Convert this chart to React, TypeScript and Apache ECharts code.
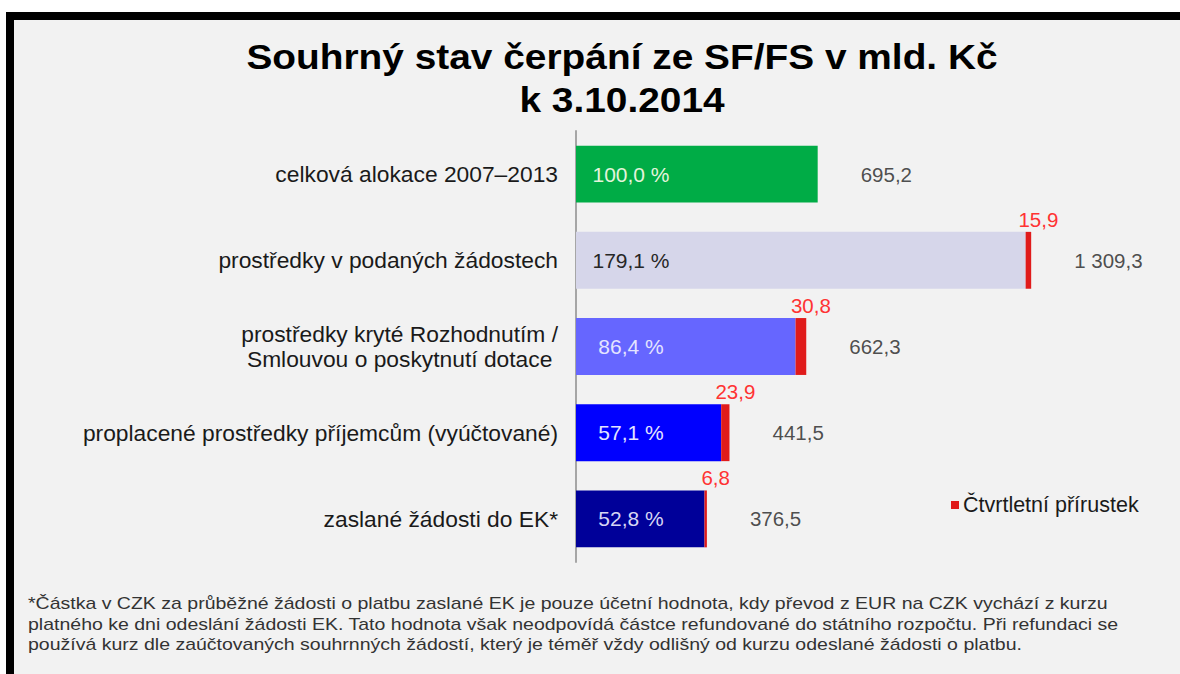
import React, { useEffect, useRef } from "react";
import * as echarts from "echarts";

const categories = [
  "celková alokace 2007–2013",
  "prostředky v podaných žádostech",
  "prostředky kryté Rozhodnutím /\nSmlouvou o poskytnutí dotace",
  "proplacené prostředky příjemcům (vyúčtované)",
  "zaslané žádosti do EK*",
];
const totals = [695.2, 1309.3, 662.3, 441.5, 376.5];
const increments = [0, 15.9, 30.8, 23.9, 6.8];
const percents = [100.0, 179.1, 86.4, 57.1, 52.8];
const legendName = "Čtvrtletní přírustek";
const titleLines = ["Souhrný stav čerpání ze SF/FS v mld. Kč", "k 3.10.2014"];
const footnoteLines = [
  "*Částka v CZK za průběžné žádosti o platbu zaslané EK je pouze účetní hodnota, kdy převod z EUR na CZK vychází z kurzu",
  "platného ke dni odeslání žádosti EK. Tato hodnota však neodpovídá částce refundované do státního rozpočtu. Při refundaci se",
  "používá kurz dle zaúčtovaných souhrnných žádostí, který je téměř vždy odlišný od kurzu odeslané žádosti o platbu.",
];

const barColors = ["#00ac46", "#d6d6ea", "#6666ff", "#0000ff", "#000099"];
const pctColors = ["#e4f4dc", "#262626", "#e4e4ff", "#e4e4ff", "#d6d6f4"];
const FONT = '"Liberation Sans", Arial, sans-serif';

function fmt(v: number): string {
  const [i, d] = v.toFixed(1).split(".");
  return i.replace(/\B(?=(\d{3})+(?!\d))/g, " ") + "," + d;
}

export default function App() {
  const ref = useRef<HTMLDivElement>(null);
  useEffect(() => {
    if (!ref.current) return;
    const chart = echarts.init(ref.current, null, { renderer: "svg" });
    const baseData = totals.map((t, i) => ({
      value: +(t - increments[i]).toFixed(1),
      itemStyle: { color: barColors[i] },
      label: { color: pctColors[i] },
    }));
    chart.setOption({
      animation: false,
      backgroundColor: "#f2f2f2",
      textStyle: { fontFamily: FONT },
      grid: { left: 576, right: 13, top: 131, bottom: 112 },
      legend: {
        data: [legendName],
        left: 946,
        top: 489,
        icon: "rect",
        itemWidth: 8,
        itemHeight: 8,
        itemGap: 4,
        textStyle: { fontSize: 21.5, color: "#1a1a1a", fontFamily: FONT, padding: [0, 0, 0, -1] },
      },
      xAxis: {
        type: "value",
        min: 0,
        max: 1700,
        show: false,
        splitLine: { show: false },
      },
      yAxis: {
        type: "category",
        inverse: true,
        data: categories,
        axisTick: { show: false },
        axisLine: { show: true, lineStyle: { color: "#a6a6a6", width: 2 } },
        axisLabel: {
          margin: 18,
          formatter: (v: string) => v.split("\n").map((l) => `{c|${l}}`).join("\n"),
          rich: {
            c: { align: "center", fontSize: 22.8, color: "#1a1a1a", fontFamily: FONT, lineHeight: 25 },
          },
        },
      },
      series: [
        {
          type: "bar",
          stack: "a",
          barWidth: "66%",
          data: baseData,
          label: {
            show: true,
            position: [55, "50%"],
            align: "center",
            verticalAlign: "middle",
            fontSize: 21,
            fontFamily: FONT,
            formatter: (p: any) => fmt(percents[p.dataIndex]) + " %",
          },
        },
        {
          name: legendName,
          type: "bar",
          stack: "a",
          barWidth: "66%",
          itemStyle: { color: "#e01b1b" },
          data: increments,
          label: {
            show: true,
            position: "top",
            distance: 2,
            offset: [10, 0],
            color: "#ff3333",
            fontSize: 20.5,
            fontFamily: FONT,
            formatter: (p: any) => (p.value > 0 ? fmt(p.value) : ""),
          },
        },
        {
          type: "scatter",
          symbolSize: 0,
          silent: true,
          data: totals.map((t, i) => [t, categories[i]]),
          label: {
            show: true,
            position: "right",
            distance: 43,
            color: "#222222",
            fontSize: 20.5,
            fontFamily: FONT,
            formatter: (p: any) => fmt(p.value[0]),
          },
        },
      ],
      graphic: [
        { type: "rect", shape: { x: 0, y: 0, width: 1180, height: 12 }, style: { fill: "#ffffff" } },
        { type: "rect", shape: { x: 0, y: 0, width: 6, height: 674 }, style: { fill: "#ffffff" } },
        { type: "rect", shape: { x: 6, y: 12, width: 1174, height: 8 }, style: { fill: "#000000" } },
        { type: "rect", shape: { x: 6, y: 12, width: 8, height: 662 }, style: { fill: "#000000" } },
        ...titleLines.map((t, i) => ({
          type: "text",
          x: 622,
          y: 57 + i * 43,
          scaleX: 1.11,
          style: {
            text: t,
            fontSize: 35,
            fontWeight: "bold",
            fontFamily: FONT,
            fill: "#000000",
            align: "center",
            verticalAlign: "middle",
          },
        })),
        ...footnoteLines.map((t, i) => ({
          type: "text",
          x: 28,
          y: 604 + i * 20.5,
          scaleX: 1.22,
          style: {
            text: t,
            fontSize: 16,
            fontFamily: FONT,
            fill: "#333333",
            align: "left",
            verticalAlign: "middle",
          },
        })),
      ],
    });
    return () => chart.dispose();
  }, []);
  return (
    <div
      ref={ref}
      style={{ position: "absolute", left: 0, top: 0, width: 1180, height: 674 }}
    />
  );
}
